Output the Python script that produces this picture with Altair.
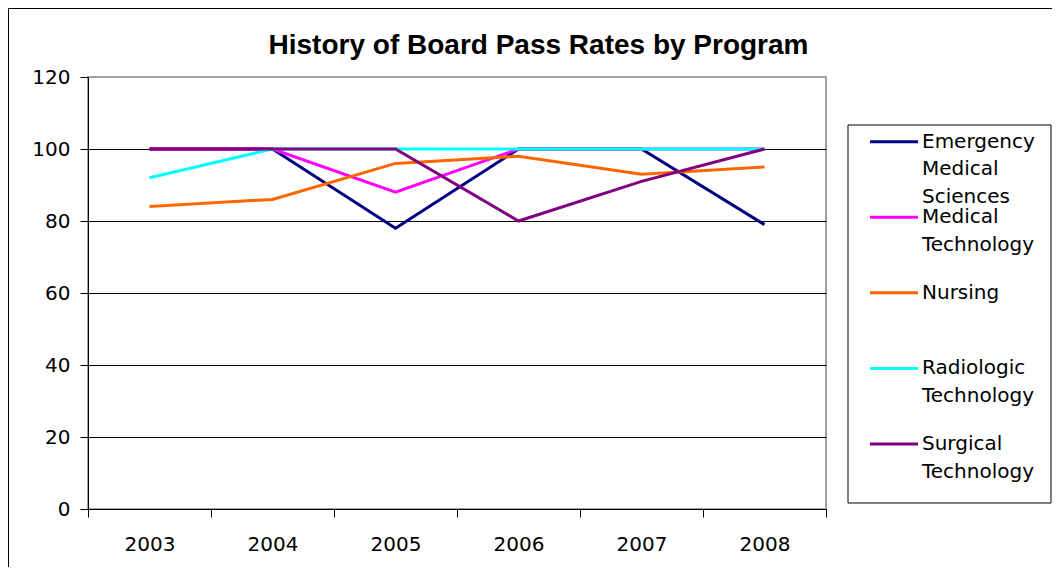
import altair as alt
import pandas as pd

# ---- data ----
years = ["2003", "2004", "2005", "2006", "2007", "2008"]
series = ["Emergency Medical Sciences", "Medical Technology", "Nursing",
          "Radiologic Technology", "Surgical Technology"]
ems = [100, 100, 78, 100, 100, 79]
medtech = [100, 100, 88, 100, 100, 100]
nursing = [84, 86, 96, 98, 93, 95]
radiologic = [92, 100, 100, 100, 100, 100]
surgical = [100, 100, 100, 80, 91, 100]
legend_labels = ["Emergency\nMedical\nSciences", "Medical\nTechnology", "Nursing",
                 "Radiologic\nTechnology", "Surgical\nTechnology"]
colors = ["#000080", "#FF00FF", "#FF6600", "#00FFFF", "#800080"]
y_ticks = [0, 20, 40, 60, 80, 100, 120]
title_text = "History of Board Pass Rates by Program"

values = [ems, medtech, nursing, radiologic, surgical]
rows = []
for s, vals in zip(series, values):
    for yr, v in zip(years, vals):
        rows.append({"year": yr, "series": s, "value": v})
df = pd.DataFrame(rows)

leg = pd.DataFrame({"series": series, "label": legend_labels,
                    "row": list(range(len(series)))})
one = pd.DataFrame({"a": [0]})

W, H = 738, 432

color = alt.Color("series:N", scale=alt.Scale(domain=series, range=colors), legend=None)

lines = alt.Chart(df).mark_line(strokeWidth=3).encode(
    x=alt.X("year:O", sort=years, bandPosition=0.5,
            scale=alt.Scale(type="band", paddingInner=0, paddingOuter=0),
            axis=alt.Axis(title=None, tickBand="extent", grid=False, labelAngle=0,
                          tickSize=8, labelPadding=17, domainColor="black",
                          tickColor="black")),
    y=alt.Y("value:Q", scale=alt.Scale(domain=[0, 120], nice=False),
            axis=alt.Axis(title=None, values=y_ticks, grid=True, gridColor="black",
                          gridOpacity=alt.condition("datum.value == 120", alt.value(0), alt.value(1)),
                          tickSize=8, labelPadding=10, domainColor="black",
                          tickColor="black")),
    color=color,
    order=alt.Order("year:O"),
)

outer = alt.Chart(one).mark_rect(fill="transparent", stroke="black", strokeWidth=1).encode(
    x=alt.value(-79.5), x2=alt.value(1100), y=alt.value(-68.5), y2=alt.value(600))

legbox = alt.Chart(one).mark_rect(fill="white", stroke="black", strokeWidth=1).encode(
    x=alt.value(760), x2=alt.value(963), y=alt.value(48), y2=alt.value(426))

rowscale = alt.Scale(domain=[0, 4], range=[64.7, 367])

legrules = alt.Chart(leg).mark_rule(strokeWidth=3).encode(
    x=alt.value(782), x2=alt.value(830),
    y=alt.Y("row:Q", scale=rowscale, axis=None),
    color=color,
)

legtext = alt.Chart(leg).mark_text(align="left", baseline="alphabetic", dy=6,
                                   lineBreak="\n", lineHeight=27.5, fontSize=20,
                                   font="DejaVu Sans", color="black").encode(
    x=alt.value(834),
    y=alt.Y("row:Q", scale=rowscale, axis=None),
    text="label:N",
)

title = alt.Chart(one).mark_text(align="center", baseline="alphabetic", fontSize=28,
                                 fontWeight="bold", font="Liberation Sans",
                                 color="black").encode(
    x=alt.value(450.5), y=alt.value(-23), text=alt.value(title_text))

chart = alt.layer(outer, lines, legbox, legrules, legtext, title).resolve_scale(
    y="independent"
).properties(
    width=W, height=H,
    padding={"left": 80, "top": 69, "right": 226, "bottom": 58},
    autosize=alt.AutoSizeParams(type="none"),
    background="white",
).configure_view(
    stroke="#a0a0a0", strokeWidth=2
).configure_axis(
    labelFont="DejaVu Sans", labelFontSize=20, labelColor="black"
)

chart.save("out.html", embed_options={"renderer": "svg", "actions": False})
